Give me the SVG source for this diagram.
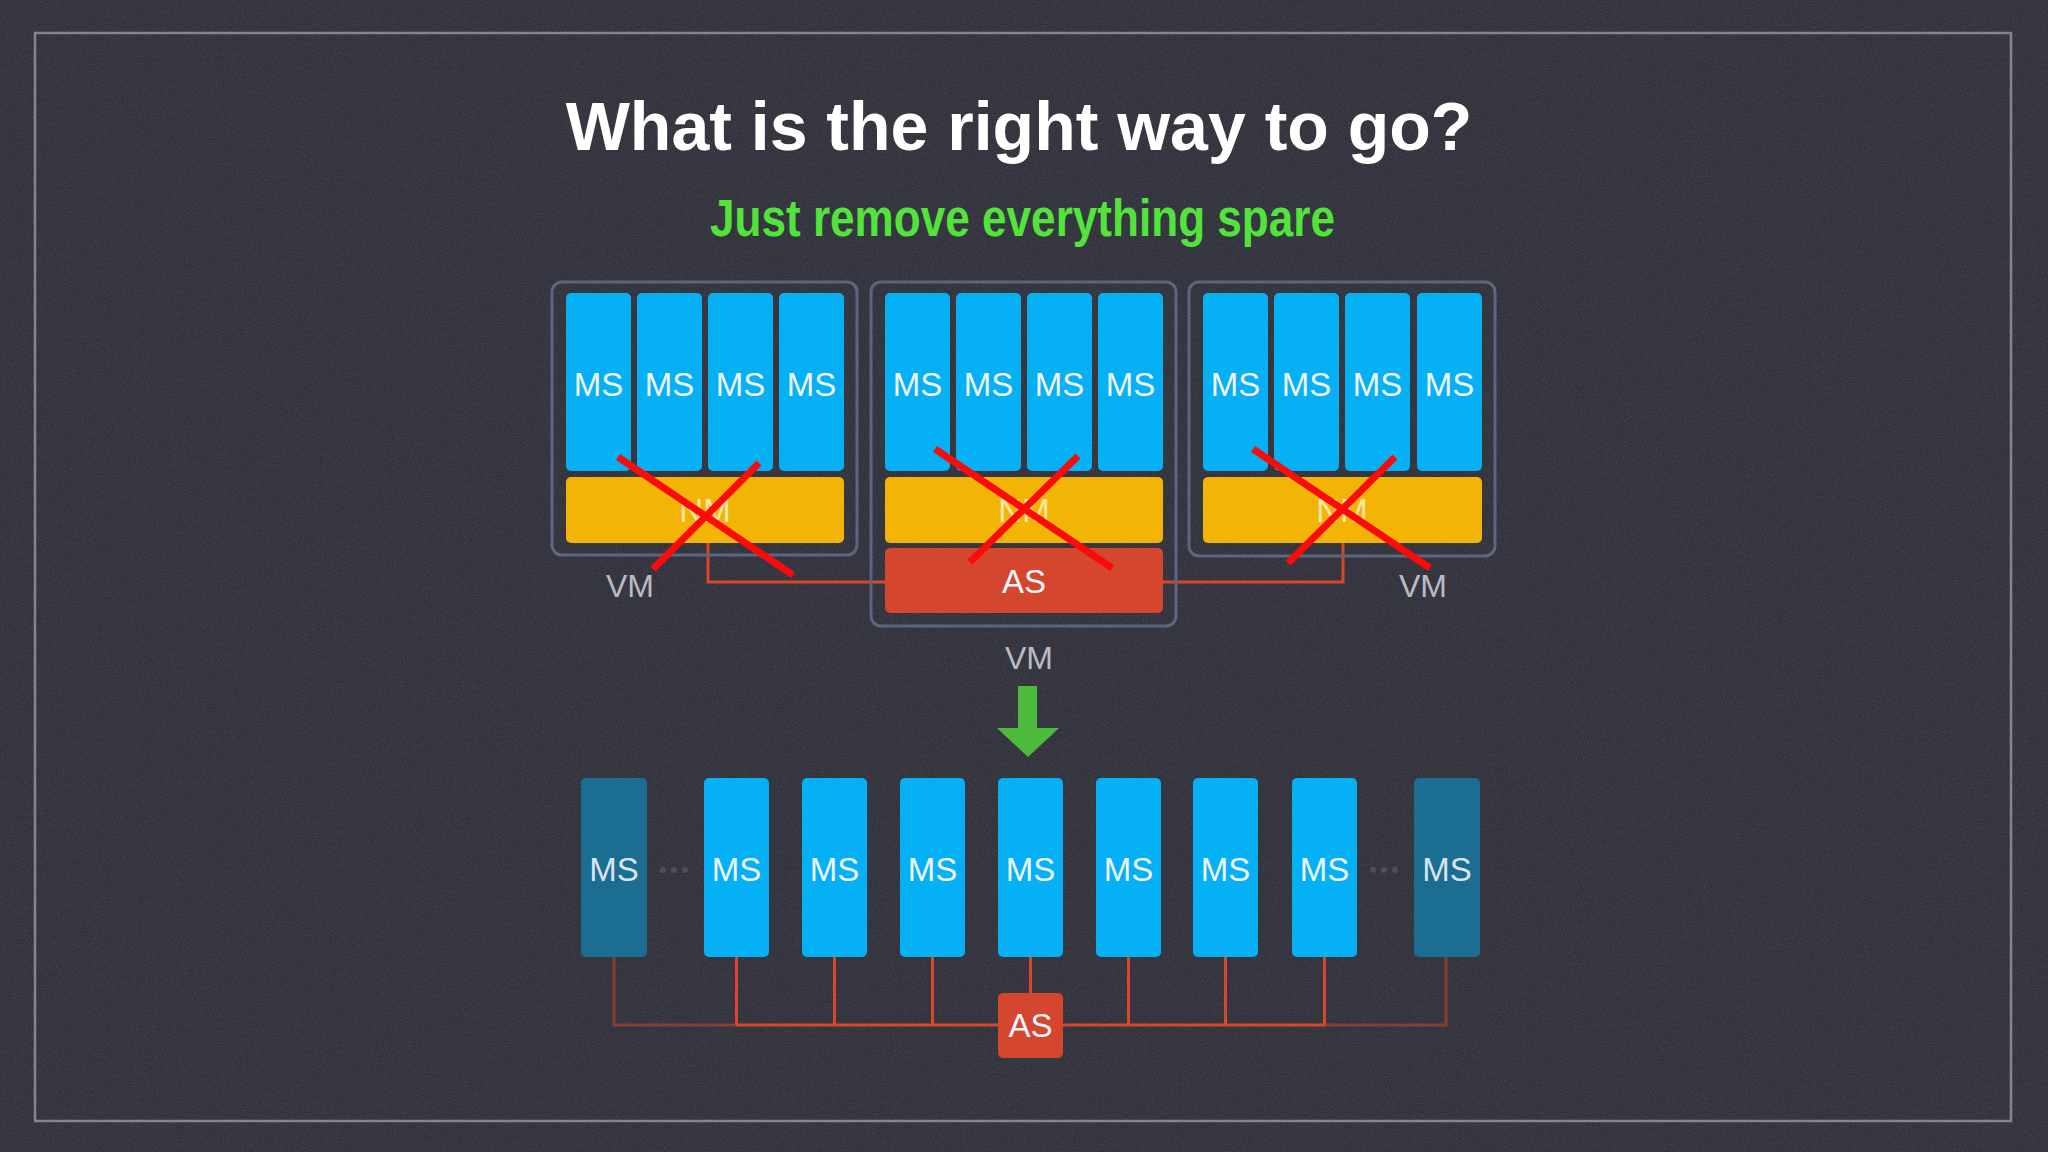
<svg xmlns="http://www.w3.org/2000/svg" width="2048" height="1152" viewBox="0 0 2048 1152">
  <defs>
    <filter id="noise" x="0" y="0" width="100%" height="100%">
      <feTurbulence type="fractalNoise" baseFrequency="0.9" numOctaves="2" seed="3" result="n"/>
      <feColorMatrix type="matrix" values="0 0 0 0 0.55  0 0 0 0 0.55  0 0 0 0 0.62  0 0 0 0.9 -0.35" in="n"/>
    </filter>
  </defs>
  <style>
    .bg { fill: #32323c; }
    .frame { fill: none; stroke: #85858b; stroke-width: 2.5; }
    .vmbox { fill: none; stroke: #5d667f; stroke-width: 3; }
    .ms { fill: #05b0f5; }
    .msdark { fill: #1b6d92; }
    .nm { fill: #f2b505; }
    .as { fill: #d4462d; }
    .lbl { font-family: "Liberation Sans", Arial, sans-serif; font-size: 33px; fill: #f2f6ff; text-anchor: middle; }
    .nmlbl { font-family: "Liberation Sans", Arial, sans-serif; font-size: 33px; fill: #fbe6a8; text-anchor: middle; }
    .vm { font-family: "Liberation Sans", Arial, sans-serif; font-size: 32px; fill: #b9bcc4; text-anchor: middle; }
    .title { font-family: "Liberation Sans", Arial, sans-serif; font-weight: bold; font-size: 68px; fill: #ffffff; text-anchor: middle; }
    .sub { font-family: "Liberation Sans", Arial, sans-serif; font-weight: bold; font-size: 51px; fill: #52e43a; }
    .link { fill: none; stroke: #d8462c; stroke-width: 3; }
    .linkdim { fill: none; stroke: #8a3c30; stroke-width: 3; }
    .cross { stroke: #ff0a0a; stroke-width: 7; stroke-linecap: butt; }
    .dot { fill: #4f4f58; }
  </style>

  <rect class="bg" x="0" y="0" width="2048" height="1152"/>
  <rect x="0" y="0" width="2048" height="1152" filter="url(#noise)" opacity="0.3"/>
  <rect class="frame" x="35" y="33" width="1976" height="1088"/>

  <text class="title" x="1019" y="150">What is the right way to go?</text>
  <text class="sub" x="710" y="236" textLength="625" lengthAdjust="spacingAndGlyphs">Just remove everything spare</text>

  <!-- connectors -->
  <g id="connectors">
    <polyline class="link" points="708,543 708,582 885,582"/>
    <polyline class="link" points="1343,543 1343,582 1163,582"/>
    <polyline class="linkdim" points="614,957 614,1025 737,1025"/>
    <polyline class="linkdim" points="1446,957 1446,1025 1324,1025"/>
    <line class="link" x1="736" y1="1025" x2="1325" y2="1025"/>
    <line class="link" x1="736.5" y1="957" x2="736.5" y2="1025"/>
    <line class="link" x1="834.5" y1="957" x2="834.5" y2="1025"/>
    <line class="link" x1="932.5" y1="957" x2="932.5" y2="1025"/>
    <line class="link" x1="1030.5" y1="957" x2="1030.5" y2="993"/>
    <line class="link" x1="1128.5" y1="957" x2="1128.5" y2="1025"/>
    <line class="link" x1="1225.5" y1="957" x2="1225.5" y2="1025"/>
    <line class="link" x1="1324.5" y1="957" x2="1324.5" y2="1025"/>
  </g>

  <!-- VM 1 -->
  <g id="vm1">
    <rect class="vmbox" x="552" y="282" width="305" height="273" rx="10"/>
    <rect class="ms" x="566" y="293" width="65" height="178" rx="5"/>
    <rect class="ms" x="637" y="293" width="65" height="178" rx="5"/>
    <rect class="ms" x="708" y="293" width="65" height="178" rx="5"/>
    <rect class="ms" x="779" y="293" width="65" height="178" rx="5"/>
    <text class="lbl" x="598.5" y="396">MS</text>
    <text class="lbl" x="669.5" y="396">MS</text>
    <text class="lbl" x="740.5" y="396">MS</text>
    <text class="lbl" x="811.5" y="396">MS</text>
    <rect class="nm" x="566" y="477" width="278" height="66" rx="5"/>
    <text class="nmlbl" x="705" y="522">NM</text>
    <text class="vm" x="630" y="597">VM</text>
    <line class="cross" x1="618" y1="457" x2="793" y2="575"/>
    <line class="cross" x1="759" y1="463" x2="653" y2="569"/>
  </g>

  <!-- VM 2 -->
  <g id="vm2">
    <rect class="vmbox" x="871" y="282" width="305" height="344" rx="10"/>
    <rect class="ms" x="885" y="293" width="65" height="178" rx="5"/>
    <rect class="ms" x="956" y="293" width="65" height="178" rx="5"/>
    <rect class="ms" x="1027" y="293" width="65" height="178" rx="5"/>
    <rect class="ms" x="1098" y="293" width="65" height="178" rx="5"/>
    <text class="lbl" x="917.5" y="396">MS</text>
    <text class="lbl" x="988.5" y="396">MS</text>
    <text class="lbl" x="1059.5" y="396">MS</text>
    <text class="lbl" x="1130.5" y="396">MS</text>
    <rect class="nm" x="885" y="477" width="278" height="66" rx="5"/>
    <text class="nmlbl" x="1024" y="522">NM</text>
    <rect class="as" x="885" y="548" width="278" height="65" rx="5"/>
    <text class="lbl" x="1024" y="593">AS</text>
    <text class="vm" x="1029" y="669">VM</text>
    <line class="cross" x1="935" y1="449" x2="1112" y2="568"/>
    <line class="cross" x1="1078" y1="456" x2="970" y2="562"/>
  </g>

  <!-- VM 3 -->
  <g id="vm3">
    <rect class="vmbox" x="1189" y="282" width="306" height="274" rx="10"/>
    <rect class="ms" x="1203" y="293" width="65" height="178" rx="5"/>
    <rect class="ms" x="1274" y="293" width="65" height="178" rx="5"/>
    <rect class="ms" x="1345" y="293" width="65" height="178" rx="5"/>
    <rect class="ms" x="1417" y="293" width="65" height="178" rx="5"/>
    <text class="lbl" x="1235.5" y="396">MS</text>
    <text class="lbl" x="1306.5" y="396">MS</text>
    <text class="lbl" x="1377.5" y="396">MS</text>
    <text class="lbl" x="1449.5" y="396">MS</text>
    <rect class="nm" x="1203" y="477" width="279" height="66" rx="5"/>
    <text class="nmlbl" x="1342" y="522">NM</text>
    <text class="vm" x="1423" y="597">VM</text>
    <line class="cross" x1="1253" y1="449" x2="1430" y2="568"/>
    <line class="cross" x1="1395" y1="457" x2="1288" y2="563"/>
  </g>

  <!-- arrow -->
  <g id="arrow">
    <polygon fill="#4cbb3c" points="1018,686 1037,686 1037,728 1059,728 1028,757 997,728 1018,728"/>
  </g>

  <!-- bottom row -->
  <g id="ms-b0">
    <rect class="msdark" x="581" y="778" width="66" height="179" rx="5"/>
    <text class="lbl" x="614" y="881" fill-opacity="0.9">MS</text>
  </g>
  <g id="dots-left">
    <circle class="dot" cx="663" cy="870" r="3"/>
    <circle class="dot" cx="674" cy="870" r="3"/>
    <circle class="dot" cx="685" cy="870" r="3"/>
  </g>
  <g id="ms-b1"><rect class="ms" x="704" y="778" width="65" height="179" rx="5"/><text class="lbl" x="736.5" y="881">MS</text></g>
  <g id="ms-b2"><rect class="ms" x="802" y="778" width="65" height="179" rx="5"/><text class="lbl" x="834.5" y="881">MS</text></g>
  <g id="ms-b3"><rect class="ms" x="900" y="778" width="65" height="179" rx="5"/><text class="lbl" x="932.5" y="881">MS</text></g>
  <g id="ms-b4"><rect class="ms" x="998" y="778" width="65" height="179" rx="5"/><text class="lbl" x="1030.5" y="881">MS</text></g>
  <g id="ms-b5"><rect class="ms" x="1096" y="778" width="65" height="179" rx="5"/><text class="lbl" x="1128.5" y="881">MS</text></g>
  <g id="ms-b6"><rect class="ms" x="1193" y="778" width="65" height="179" rx="5"/><text class="lbl" x="1225.5" y="881">MS</text></g>
  <g id="ms-b7"><rect class="ms" x="1292" y="778" width="65" height="179" rx="5"/><text class="lbl" x="1324.5" y="881">MS</text></g>
  <g id="dots-right">
    <circle class="dot" cx="1373" cy="870" r="3"/>
    <circle class="dot" cx="1384" cy="870" r="3"/>
    <circle class="dot" cx="1395" cy="870" r="3"/>
  </g>
  <g id="ms-b8">
    <rect class="msdark" x="1414" y="778" width="66" height="179" rx="5"/>
    <text class="lbl" x="1447" y="881" fill-opacity="0.9">MS</text>
  </g>
  <g id="as-bottom">
    <rect class="as" x="998" y="993" width="65" height="65" rx="5"/>
    <text class="lbl" x="1030.5" y="1037">AS</text>
  </g>
</svg>
